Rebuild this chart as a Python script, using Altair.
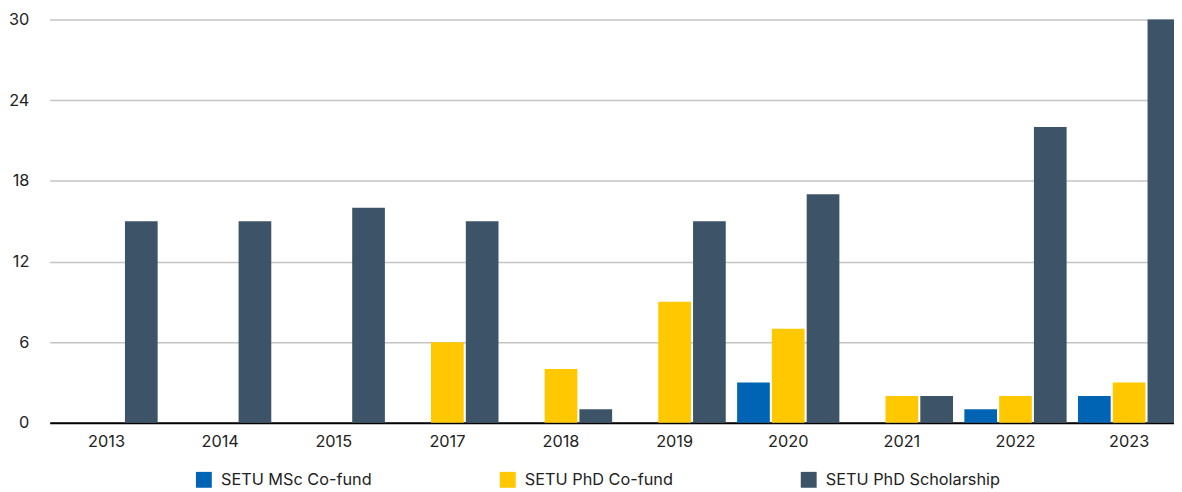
import altair as alt
import pandas as pd

years = ["2013", "2014", "2015", "2017", "2018", "2019", "2020", "2021", "2022", "2023"]
series = ["SETU MSc Co-fund", "SETU PhD Co-fund", "SETU PhD Scholarship"]
msc_cofund = [0, 0, 0, 0, 0, 0, 3, 0, 1, 2]
phd_cofund = [0, 0, 0, 6, 4, 9, 7, 2, 2, 3]
phd_scholarship = [15, 15, 16, 15, 1, 15, 17, 2, 22, 30]
colors = ["#0064B4", "#FFC800", "#3D5468"]
y_ticks = [0, 6, 12, 18, 24, 30]

rows = []
for name, vals in zip(series, [msc_cofund, phd_cofund, phd_scholarship]):
    for yr, v in zip(years, vals):
        rows.append({"year": yr, "series": name, "value": v})
df = pd.DataFrame(rows)

chart = alt.Chart(df).mark_bar().encode(
    x=alt.X("year:N", sort=years, title=None,
            scale=alt.Scale(paddingInner=0.1, paddingOuter=0.05),
            axis=alt.Axis(labelAngle=0, ticks=False, domainColor="#000000", domainWidth=2,
                          labelPadding=11, labelFontSize=16.4, labelColor="#222222")),
    xOffset=alt.XOffset("series:N", sort=series,
                        scale=alt.Scale(domain=series, paddingInner=0.06, paddingOuter=0)),
    y=alt.Y("value:Q", title=None,
            scale=alt.Scale(domain=[0, 30], nice=False),
            axis=alt.Axis(values=y_ticks, domain=False, ticks=False, gridColor="#C4C4C4",
                          gridWidth=1.5, labelPadding=21, labelFontSize=16.4,
                          labelColor="#222222")),
    color=alt.Color("series:N", sort=series,
                    scale=alt.Scale(domain=series, range=colors),
                    legend=alt.Legend(title=None, orient="none", direction="horizontal",
                                      legendX=147, legendY=455, symbolType="square",
                                      symbolSize=256, symbolStrokeWidth=0, labelFontSize=16.4,
                                      labelColor="#222222", labelOffset=9, columnPadding=128,
                                      labelLimit=300)),
).properties(
    width=1144, height=406,
    autosize=alt.AutoSizeParams(type="none"),
    padding={"left": 42, "top": 10, "right": -12, "bottom": 66},
).configure(font="Inter").configure_view(stroke=None)

chart.save("out.html", embed_options={"renderer": "svg", "actions": False})
